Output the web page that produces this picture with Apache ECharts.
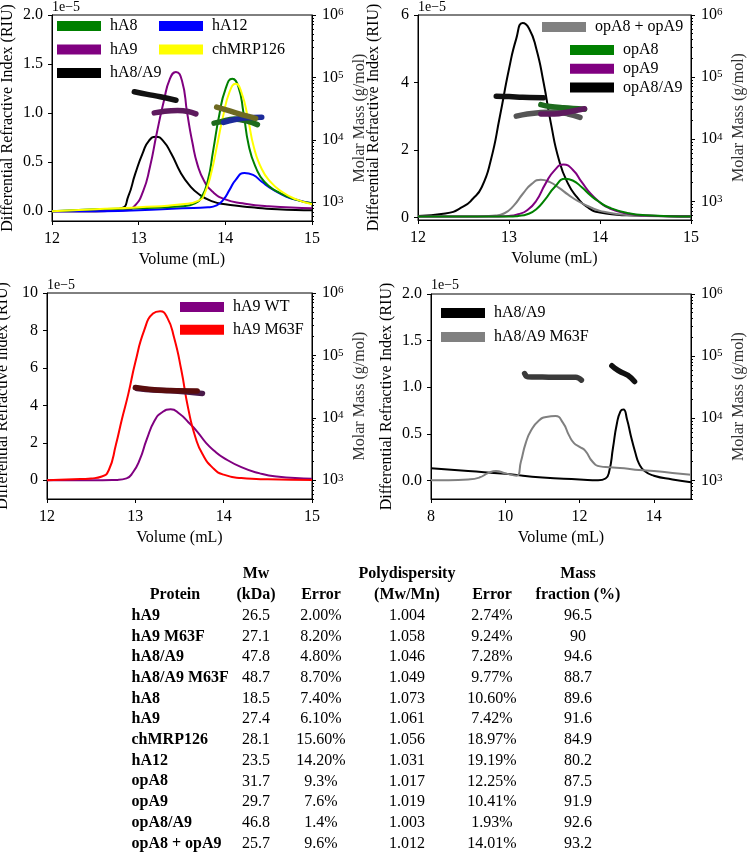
<!DOCTYPE html>
<html>
<head>
<meta charset="utf-8">
<script src="https://cdn.jsdelivr.net/npm/echarts@6/dist/echarts.min.js"></script>
<style>
  html, body { margin: 0; padding: 0; background: #fff; }
  #main { width: 750px; height: 854px; }
</style>
</head>
<body>
<div id="main"></div>
<script>
const FONT = 'Liberation Serif';

// ---- tick values ----
const volTicks = [12, 13, 14, 15];
const volTicksWide = [8, 10, 12, 14];
const riTicksA = [0, 0.5, 1, 1.5, 2];
const riTicksB = [0, 2, 4, 6];
const riTicksC = [0, 2, 4, 6, 8, 10];
const riTicksD = [0, 0.5, 1, 1.5, 2];
const massTicks = [1e3, 1e4, 1e5, 1e6];
const massMinorTicks = [500, 600, 700, 800, 900,
  2000, 3000, 4000, 5000, 6000, 7000, 8000, 9000,
  20000, 30000, 40000, 50000, 60000, 70000, 80000, 90000,
  200000, 300000, 400000, 500000, 600000, 700000, 800000, 900000];

// ---- panel A: human proteins (RI x1e-5, molar mass g/mol) ----
const hA8Ri = [[12,0.0],[12.5,0.02],[13,0.03],[13.5,0.05],[13.65,0.08],[13.73,0.15],[13.8,0.32],[13.86,0.62],[13.93,0.98],[14.0,1.24],[14.08,1.35],[14.15,1.27],[14.21,1.0],[14.27,0.67],[14.35,0.45],[14.45,0.3],[14.6,0.2],[14.8,0.12],[15,0.08]];
const hA9Ri = [[12,0.0],[12.5,0.0],[12.85,0.01],[12.95,0.05],[13.05,0.2],[13.13,0.45],[13.21,0.8],[13.29,1.12],[13.36,1.35],[13.43,1.42],[13.5,1.33],[13.56,1.0],[13.62,0.7],[13.68,0.47],[13.76,0.3],[13.85,0.2],[14.0,0.12],[14.2,0.08],[14.5,0.05],[15,0.03]];
const hA8A9Ri = [[12,0.0],[12.5,0.0],[12.8,0.03],[12.88,0.15],[12.96,0.38],[13.05,0.6],[13.12,0.72],[13.2,0.76],[13.28,0.72],[13.38,0.58],[13.48,0.4],[13.58,0.27],[13.7,0.17],[13.85,0.1],[14.0,0.07],[14.3,0.04],[14.6,0.02],[15,0.01]];
const hA12Ri = [[12,0.0],[12.5,0.0],[13,0.01],[13.5,0.03],[13.8,0.04],[13.9,0.06],[13.98,0.12],[14.05,0.22],[14.12,0.32],[14.22,0.39],[14.32,0.37],[14.42,0.3],[14.55,0.22],[14.7,0.15],[14.85,0.11],[15,0.08]];
const chMRP126Ri = [[12,0.0],[12.5,0.02],[13,0.04],[13.5,0.07],[13.7,0.11],[13.77,0.2],[13.84,0.4],[13.9,0.65],[13.97,0.95],[14.05,1.22],[14.12,1.3],[14.19,1.2],[14.26,0.95],[14.33,0.65],[14.42,0.43],[14.52,0.3],[14.65,0.2],[14.82,0.12],[15,0.07]];

const hA8A9Mm = [[12.95,59000],[13.1,53500],[13.25,49000],[13.43,43000]];
const hA9Mm = [[13.18,27000],[13.3,28800],[13.45,29500],[13.57,28500],[13.66,26000]];
const hA8Mm = [[13.87,18500],[13.95,19500],[14.1,21500],[14.25,20000],[14.37,17500]];
const hA12Mm = [[13.98,19000],[14.1,21000],[14.25,22500],[14.42,23000]];
const chMRP126Mm = [[13.9,33500],[14.05,29000],[14.2,25000],[14.35,22000]];

// ---- panel B: opossum proteins ----
const opA8A9Ri = [[12,0.05],[12.3,0.12],[12.5,0.33],[12.6,0.55],[12.7,0.9],[12.8,1.7],[12.9,3.0],[13.0,4.4],[13.08,5.3],[13.15,5.76],[13.22,5.6],[13.3,5.0],[13.38,4.0],[13.46,2.8],[13.55,1.7],[13.65,1.0],[13.75,0.6],[13.85,0.33],[14.0,0.15],[14.3,0.07],[15,0.04]];
const opSumRi = [[12,0.03],[12.5,0.03],[12.85,0.06],[12.95,0.13],[13.05,0.35],[13.15,0.7],[13.25,1.0],[13.35,1.12],[13.45,1.05],[13.55,0.88],[13.65,0.68],[13.75,0.5],[13.9,0.3],[14.0,0.2],[14.2,0.1],[14.5,0.05],[15,0.03]];
const opA9Ri = [[12,0.03],[12.8,0.03],[13.0,0.05],[13.1,0.1],[13.2,0.22],[13.3,0.5],[13.4,1.0],[13.5,1.4],[13.6,1.57],[13.7,1.42],[13.8,1.05],[13.9,0.7],[14.0,0.45],[14.1,0.28],[14.3,0.12],[14.5,0.06],[15,0.03]];
const opA8Ri = [[12,0.03],[13.0,0.03],[13.1,0.05],[13.2,0.1],[13.3,0.25],[13.4,0.55],[13.5,0.9],[13.62,1.15],[13.7,1.1],[13.8,0.9],[13.9,0.65],[14.0,0.45],[14.1,0.3],[14.3,0.14],[14.5,0.07],[15,0.03]];

const opA8A9Mm = [[12.86,49000],[13.0,48500],[13.15,47500],[13.38,46500]];
const opSumMm = [[13.08,23500],[13.2,25500],[13.35,27000],[13.5,27500],[13.65,25500],[13.78,22500]];
const opA8Mm = [[13.35,36000],[13.45,33500],[13.6,32000],[13.83,30500]];
const opA9Mm = [[13.35,25500],[13.5,25500],[13.65,27500],[13.83,31000]];

// ---- panel C: hA9 WT vs M63F ----
const hA9WtRi = [[12,0.0],[12.5,0.0],[12.8,0.02],[12.9,0.1],[12.97,0.4],[13.05,1.1],[13.13,2.2],[13.22,3.2],[13.3,3.62],[13.4,3.79],[13.5,3.55],[13.6,3.1],[13.7,2.6],[13.8,2.0],[13.9,1.55],[14.0,1.2],[14.2,0.7],[14.4,0.38],[14.6,0.2],[15,0.08]];
const hA9M63FRi = [[12,0.0],[12.3,0.05],[12.5,0.1],[12.62,0.2],[12.7,0.55],[12.78,1.9],[12.85,3.3],[12.92,4.6],[13.0,6.3],[13.1,8.0],[13.2,8.9],[13.28,9.02],[13.36,8.7],[13.44,7.6],[13.52,5.9],[13.6,3.8],[13.68,2.3],[13.76,1.4],[13.88,0.65],[14.0,0.3],[14.2,0.12],[14.5,0.05],[15,0.02]];
const hA9WtMm = [[13.02,29500],[13.2,27800],[13.45,27000],[13.76,24500]];
const hA9M63FMm = [[13.0,30500],[13.15,28800],[13.4,27300],[13.7,27000]];

// ---- panel D: hA8/A9 WT vs M63F ----
const hA8A9WideRi = [[8,0.13],[9,0.1],[10,0.07],[11,0.03],[12,0.01],[12.5,0.0],[12.7,0.02],[12.8,0.1],[12.9,0.35],[13.0,0.6],[13.1,0.74],[13.18,0.76],[13.28,0.65],[13.38,0.48],[13.5,0.3],[13.6,0.18],[13.75,0.1],[14,0.05],[14.5,0.01],[15,-0.02]];
const hA8A9M63FRi = [[8,0.0],[9,0.01],[9.3,0.03],[9.55,0.08],[9.75,0.1],[10,0.075],[10.3,0.05],[10.42,0.2],[10.55,0.4],[10.7,0.54],[10.9,0.64],[11.1,0.68],[11.35,0.69],[11.55,0.62],[11.72,0.48],[11.85,0.4],[12.0,0.36],[12.15,0.32],[12.35,0.2],[12.55,0.15],[12.8,0.14],[13.2,0.13],[13.6,0.11],[14,0.1],[14.5,0.08],[15,0.06]];
const hA8A9M63FMm = [[10.52,52500],[10.6,46500],[11.0,46000],[11.5,45500],[11.9,45500],[12.05,41000]];
const hA8A9WideMm = [[12.87,70000],[12.95,64000],[13.1,56000],[13.3,49000],[13.48,39000]];

// ---- table ----
const tableHead1 = ['', 'Mw', '', 'Polydispersity', '', 'Mass'];
const tableHead2 = ['Protein', '(kDa)', 'Error', '(Mw/Mn)', 'Error', 'fraction (%)'];
const proteinNames = ['hA9', 'hA9 M63F', 'hA8/A9', 'hA8/A9 M63F', 'hA8', 'hA9', 'chMRP126', 'hA12', 'opA8', 'opA9', 'opA8/A9', 'opA8 + opA9'];
const mwKda = ['26.5', '27.1', '47.8', '48.7', '18.5', '27.4', '28.1', '23.5', '31.7', '29.7', '46.8', '25.7'];
const mwError = ['2.00%', '8.20%', '4.80%', '8.70%', '7.40%', '6.10%', '15.60%', '14.20%', '9.3%', '7.6%', '1.4%', '9.6%'];
const polydispersity = ['1.004', '1.058', '1.046', '1.049', '1.073', '1.061', '1.056', '1.031', '1.017', '1.019', '1.003', '1.012'];
const pdError = ['2.74%', '9.24%', '7.28%', '9.77%', '10.60%', '7.42%', '18.97%', '19.19%', '12.25%', '10.41%', '1.93%', '14.01%'];
const massFraction = ['96.5', '90', '94.6', '88.7', '89.6', '91.6', '84.9', '80.2', '87.5', '91.9', '92.6', '93.2'];

// ---- layout ----
const grids = [
  { left: 52, top: 15, width: 260, height: 206 },
  { left: 418, top: 15, width: 273, height: 205 },
  { left: 47, top: 293, width: 265, height: 206 },
  { left: 431, top: 294, width: 260, height: 205 }
];
const panels = [
  { xMin: 12, xMax: 15, xTicks: volTicks, yMin: -0.1, yMax: 2, yTicks: riTicksA, dec: 1 },
  { xMin: 12, xMax: 15, xTicks: volTicks, yMin: -0.07, yMax: 6, yTicks: riTicksB, dec: 0 },
  { xMin: 12, xMax: 15, xTicks: volTicks, yMin: -1, yMax: 10, yTicks: riTicksC, dec: 0 },
  { xMin: 8, xMax: 15, xTicks: volTicksWide, yMin: -0.2, yMax: 2, yTicks: riTicksD, dec: 1 }
];

const labelStyle = { color: '#000', fontSize: 16, fontFamily: FONT };
const axisLine = { show: true, onZero: false, lineStyle: { color: '#000', width: 1 } };

const xAxis = panels.map((p, g) => ({
  gridIndex: g, type: 'value', min: p.xMin, max: p.xMax,
  axisLine: axisLine,
  axisTick: { show: true, length: 4, customValues: p.xTicks, lineStyle: { color: '#000' } },
  axisLabel: Object.assign({ customValues: p.xTicks, margin: 10 }, labelStyle),
  splitLine: { show: false },
  name: 'Volume (mL)', nameLocation: 'middle', nameGap: 31,
  nameTextStyle: labelStyle, nameMoveOverlap: false
}));

const yAxis = [];
panels.forEach((p, g) => {
  yAxis.push({
    gridIndex: g, type: 'value', position: 'left', min: p.yMin, max: p.yMax,
    axisLine: axisLine,
    axisTick: { show: true, length: 4, customValues: p.yTicks, lineStyle: { color: '#000' } },
    axisLabel: Object.assign({ customValues: p.yTicks, margin: 9,
      formatter: v => v.toFixed(p.dec) }, labelStyle),
    splitLine: { show: false },
    name: 'Differential Refractive Index (RIU)', nameLocation: 'middle', nameRotate: 90,
    nameGap: 36, nameTextStyle: labelStyle, nameMoveOverlap: false
  });
  yAxis.push({
    gridIndex: g, type: 'log', logBase: 10, position: 'right', min: 500, max: 1e6,
    axisLine: axisLine,
    axisTick: { show: true, length: 4, customValues: massTicks, lineStyle: { color: '#000' } },
    axisLabel: {
      customValues: massTicks, margin: 10,
      formatter: v => '{b|10}{s|' + Math.round(Math.log10(v)) + '}',
      rich: {
        b: { fontSize: 16, fontFamily: FONT, color: '#000', lineHeight: 16, padding: [5, 0, 0, 0], verticalAlign: 'bottom' },
        s: { fontSize: 11, fontFamily: FONT, color: '#000', lineHeight: 11, verticalAlign: 'top' }
      }
    },
    splitLine: { show: false },
    name: 'Molar Mass (g/mol)', nameLocation: 'middle', nameRotate: 90, nameGap: 40,
    nameTextStyle: { color: '#333', fontSize: 16, fontFamily: FONT }, nameMoveOverlap: false
  });
  yAxis.push({
    gridIndex: g, type: 'log', logBase: 10, position: 'right', min: 500, max: 1e6,
    axisLine: { show: false },
    axisTick: { show: true, length: 2, customValues: massMinorTicks, lineStyle: { color: '#000' } },
    axisLabel: { show: false },
    splitLine: { show: false }
  });
});

function riLine(name, data, color, g) {
  return {
    name: name, type: 'line', xAxisIndex: g, yAxisIndex: g * 3, data: data,
    smooth: 0.55, showSymbol: false, symbol: 'none',
    lineStyle: { color: color, width: 2, join: 'round' }, itemStyle: { color: color }, z: 2, silent: true
  };
}
function massLine(name, data, color, g) {
  return {
    name: name, type: 'line', xAxisIndex: g, yAxisIndex: g * 3 + 1, data: data,
    smooth: 0.4, showSymbol: false, symbol: 'none',
    lineStyle: { color: color, width: 5.5, cap: 'round', join: 'round' }, z: 4, silent: true
  };
}

const series = [
  riLine('hA8/A9', hA8A9Ri, '#000000', 0),
  riLine('hA9', hA9Ri, '#800080', 0),
  riLine('hA12', hA12Ri, '#0000ff', 0),
  riLine('hA8', hA8Ri, '#008000', 0),
  riLine('chMRP126', chMRP126Ri, '#ffff00', 0),
  massLine('hA8/A9 Mm', hA8A9Mm, '#111111', 0),
  massLine('hA9 Mm', hA9Mm, '#5e1a5e', 0),
  massLine('hA8 Mm', hA8Mm, '#1e6b1e', 0),
  massLine('hA12 Mm', hA12Mm, '#1c2a9a', 0),
  massLine('chMRP126 Mm', chMRP126Mm, '#6e6a22', 0),

  riLine('opA8/A9', opA8A9Ri, '#000000', 1),
  riLine('opA8 + opA9', opSumRi, '#808080', 1),
  riLine('opA9', opA9Ri, '#800080', 1),
  riLine('opA8', opA8Ri, '#008000', 1),
  massLine('opA8/A9 Mm', opA8A9Mm, '#111111', 1),
  massLine('opA8 + opA9 Mm', opSumMm, '#555555', 1),
  massLine('opA8 Mm', opA8Mm, '#1e6b1e', 1),
  massLine('opA9 Mm', opA9Mm, '#5e1a5e', 1),

  riLine('hA9 WT', hA9WtRi, '#800080', 2),
  riLine('hA9 M63F', hA9M63FRi, '#ff0000', 2),
  massLine('hA9 WT Mm', hA9WtMm, '#4a1a4a', 2),
  massLine('hA9 M63F Mm', hA9M63FMm, '#5a0d0d', 2),

  riLine('hA8/A9', hA8A9WideRi, '#000000', 3),
  riLine('hA8/A9 M63F', hA8A9M63FRi, '#808080', 3),
  massLine('hA8/A9 M63F Mm', hA8A9M63FMm, '#3a3a3a', 3),
  massLine('hA8/A9 Mm 2', hA8A9WideMm, '#111111', 3)
];

function legendBox(names, left, top, gap) {
  return {
    data: names, orient: 'vertical', left: left, top: top, itemGap: gap,
    itemWidth: 44, itemHeight: 10, icon: 'rect', selectedMode: false,
    padding: 0,
    textStyle: { color: '#000', fontSize: 16, fontFamily: FONT, lineHeight: 16, padding: [0, 0, 0, 4] }
  };
}
const legend = [
  legendBox(['hA8', 'hA9', 'hA8/A9'], 57, 18, 7.5),
  legendBox(['hA12', 'chMRP126'], 159, 18, 7.5),
  legendBox(['opA8 + opA9'], 542, 19, 0),
  legendBox(['opA8', 'opA9', 'opA8/A9'], 570, 42, 2.7),
  legendBox(['hA9 WT', 'hA9 M63F'], 180, 299, 6.7),
  legendBox(['hA8/A9', 'hA8/A9 M63F'], 441, 305, 8)
];

// offset text above each left axis
const graphic = [];
[[52, 7], [418, 7], [47, 285], [431, 285]].forEach(pos => {
  graphic.push({
    type: 'text', x: pos[0], y: pos[1], silent: true,
    style: { text: '1e\u22125', fill: '#000', fontSize: 14, fontFamily: FONT, align: 'left', verticalAlign: 'middle' }
  });
});

// table
const colX = [175, 256, 321, 407, 492, 578];
function cell(text, x, y, bold, align) {
  graphic.push({
    type: 'text', x: x, y: y, silent: true,
    style: { text: text, fill: '#000', fontSize: 16, fontFamily: FONT, fontWeight: bold ? 'bold' : 'normal',
      align: align || 'center', verticalAlign: 'middle' }
  });
}
tableHead1.forEach((t, i) => { if (t) cell(t, colX[i], 573.5, true); });
tableHead2.forEach((t, i) => cell(t, colX[i], 594.5, true));
const rowY0 = 615.7, rowStep = 20.7;
proteinNames.forEach((name, r) => {
  const y = rowY0 + r * rowStep;
  cell(name, 131.5, y, true, 'left');
  cell(mwKda[r], colX[1], y, false);
  cell(mwError[r], colX[2], y, false);
  cell(polydispersity[r], colX[3], y, false);
  cell(pdError[r], colX[4], y, false);
  cell(massFraction[r], colX[5], y, false);
});

const chart = echarts.init(document.getElementById('main'), null, { renderer: 'canvas' });
chart.setOption({
  backgroundColor: '#fff',
  animation: false,
  textStyle: { fontFamily: FONT },
  grid: grids.map(g => Object.assign({ show: true, borderColor: '#000', borderWidth: 1,
    backgroundColor: 'transparent', outerBoundsMode: 'none', containLabel: false }, g)),
  xAxis: xAxis,
  yAxis: yAxis,
  legend: legend,
  series: series,
  graphic: graphic
});
</script>
</body>
</html>
